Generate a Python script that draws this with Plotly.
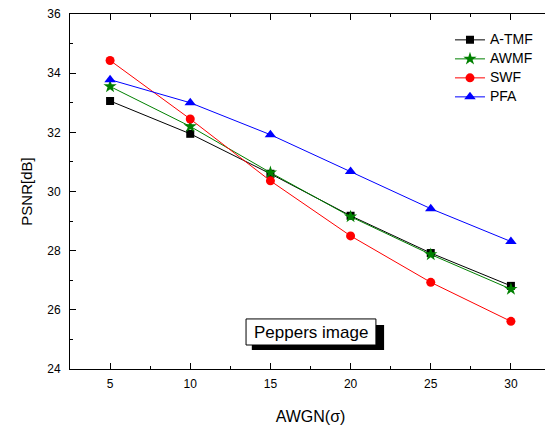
import plotly.graph_objects as go

sigma = [5, 10, 15, 20, 25, 30]
atmf = [33.06, 31.95, 30.60, 29.18, 27.92, 26.81]
awmf = [33.55, 32.20, 30.64, 29.15, 27.87, 26.70]
swf = [34.43, 32.45, 30.36, 28.50, 26.93, 25.61]
pfa = [33.78, 33.00, 31.92, 30.68, 29.42, 28.31]

series = [
    ("A-TMF", atmf, "#000000", "square", 8),
    ("AWMF", awmf, "#008000", "star", 10),
    ("SWF", swf, "#ff0000", "circle", 9),
    ("PFA", pfa, "#0000ff", "triangle-up", 10),
]

fig = go.Figure()
for name, vals, col, sym, sz in series:
    fig.add_trace(go.Scatter(
        x=sigma, y=vals, name="<span style='font-size:14px'>%s</span>" % name,
        mode="lines+markers",
        line=dict(color=col, width=1),
        marker=dict(symbol=sym, size=sz, color=col, line=dict(width=0)),
    ))

font = "Liberation Sans, Arial, sans-serif"
axis_common = dict(
    showline=True, linecolor="black", linewidth=1, mirror="ticks",
    ticks="inside", ticklen=6, tickwidth=1, tickcolor="black",
    showgrid=False, zeroline=False, automargin=False,
    ticklabeloverflow="allow",
    tickfont=dict(family=font, size=12, color="black"),
)
fig.update_xaxes(range=[2.5, 32.5], tickvals=[5, 10, 15, 20, 25, 30],
                 minor=dict(ticks="inside", ticklen=3, dtick=2.5, tick0=2.5, tickcolor="black", showgrid=False),
                 title=dict(text="AWGN(σ)", font=dict(family=font, size=16, color="black"), standoff=20),
                 ticklabelstandoff=4,
                 **axis_common)
fig.update_yaxes(range=[24, 36], dtick=2, tick0=24,
                 minor=dict(ticks="inside", ticklen=3, dtick=1, tickcolor="black", showgrid=False),
                 title=dict(text="PSNR[dB]", font=dict(family=font, size=15, color="black"), standoff=10),
                 ticklabelstandoff=6,
                 **axis_common)

# Label box with drop shadow
fig.add_shape(type="rect", xref="paper", yref="paper",
              x0=0.378, x1=0.653, y0=0.0535, y1=0.124,
              fillcolor="black", line=dict(width=0), layer="above")
fig.add_shape(type="rect", xref="paper", yref="paper",
              x0=0.366, x1=0.636, y0=0.0676, y1=0.141,
              fillcolor="white", line=dict(color="black", width=1), layer="above")
fig.add_annotation(xref="paper", yref="paper", x=0.501, y=0.104,
                   xanchor="center", yanchor="middle",
                   text="Peppers image", showarrow=False,
                   font=dict(family=font, size=17, color="black"))

fig.update_layout(
    width=545, height=420,
    margin=dict(l=62, r=2, t=6, b=59, autoexpand=False),
    plot_bgcolor="white", paper_bgcolor="white",
    font=dict(family=font, color="black"),
    legend=dict(x=0.79, y=0.968, xanchor="left", yanchor="top",
                bgcolor="rgba(0,0,0,0)", font=dict(family=font, size=11, color="black"),
                tracegroupgap=0, itemwidth=30),
    showlegend=True,
)

fig.write_html("out.html")
